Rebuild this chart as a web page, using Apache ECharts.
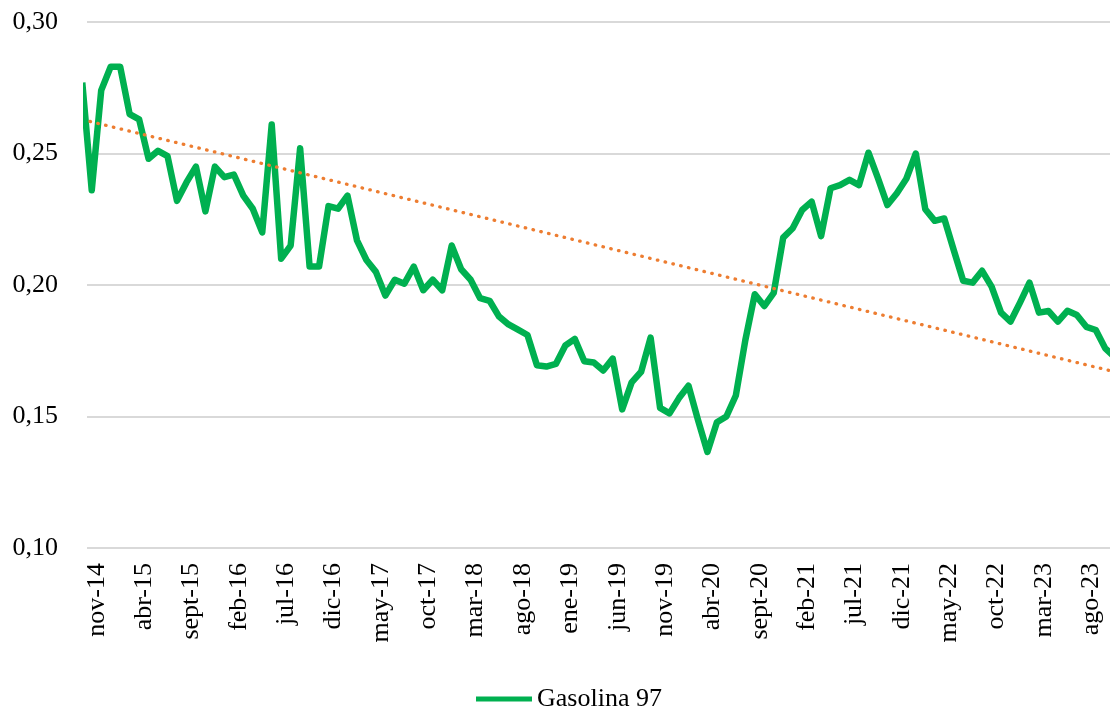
<!DOCTYPE html>
<html>
<head>
<meta charset="utf-8">
<script src="https://cdn.jsdelivr.net/npm/echarts@6/dist/echarts.min.js"></script>
<style>
  html, body { margin: 0; padding: 0; background: #fff; }
  #chart { width: 1110px; height: 708px; }
</style>
</head>
<body>
<div id="chart"></div>
<script>
  // meses tal como salen en el eje
  const monthNames = ['ene', 'feb', 'mar', 'abr', 'may', 'jun', 'jul', 'ago', 'sept', 'oct', 'nov', 'dic']
  const firstYear = 14
  const firstMonth = 10 // nov-14
  const seriesName = 'Gasolina 97'

  // nov-14 ... oct-23, uno por mes
  const prices = [
    0.236, 0.274, 0.283, 0.283, 0.265, 0.263, 0.248, 0.251, 0.249, 0.232,
    0.239, 0.245, 0.228, 0.245, 0.241, 0.242, 0.234, 0.229, 0.220, 0.261,
    0.210, 0.215, 0.252, 0.207, 0.207, 0.230, 0.229, 0.234, 0.217, 0.2095,
    0.205, 0.196, 0.202, 0.2005, 0.207, 0.198, 0.202, 0.198, 0.215, 0.206,
    0.202, 0.195, 0.194, 0.188, 0.185, 0.183, 0.181, 0.1695, 0.169, 0.170,
    0.177, 0.1795, 0.171, 0.1705, 0.1675, 0.172, 0.1527, 0.163, 0.167, 0.180,
    0.1533, 0.1512, 0.157, 0.1617, 0.1487, 0.1365, 0.1478, 0.150, 0.158, 0.179,
    0.1965, 0.192, 0.197, 0.218, 0.2216, 0.2285, 0.2317, 0.2186, 0.2368, 0.238,
    0.240, 0.238, 0.2503, 0.2406, 0.2304, 0.2349, 0.2404, 0.2500, 0.2288, 0.2244,
    0.2253, 0.2133, 0.2016, 0.2009, 0.2054, 0.1994, 0.1895, 0.1861, 0.1933, 0.2009,
    0.1895, 0.1901, 0.1861, 0.1902, 0.1886, 0.1841, 0.1829, 0.1759
  ]
  // los meses de los bordes (oct-14 y nov-23) quedan cortados por el área del gráfico
  const priceBefore = 0.277
  const priceAfter = 0.1726
  // tendencia lineal: valor en oct-14 y en nov-23
  const trendEnds = [0.2629, 0.1670]
  const yMin = 0.10
  const yMax = 0.30
  const yStep = 0.05

  const categories = prices.map((v, i) => {
    let m = firstMonth + i
    return monthNames[m % 12] + '-' + (firstYear + Math.floor(m / 12))
  })
  const lineData = [priceBefore].concat(prices, [priceAfter]).map((v, i) => [i, v])
  const trendData = [[0, trendEnds[0]], [prices.length + 1, trendEnds[1]]]

  const font = 'Liberation Serif'
  const chart = echarts.init(document.getElementById('chart'))
  chart.setOption({
    animation: false,
    backgroundColor: '#fff',
    grid: { left: 87, right: 0, top: 22, bottom: 160 },
    legend: {
      data: [{ name: seriesName, icon: 'rect' }],
      left: 471,
      top: 681,
      itemWidth: 56,
      itemHeight: 5,
      textStyle: { fontFamily: font, fontSize: 26, color: '#000' }
    },
    xAxis: [
      {
        type: 'category',
        data: categories,
        boundaryGap: true,
        axisLine: { show: false },
        axisTick: { show: false },
        axisLabel: {
          interval: 4,
          rotate: 90,
          margin: 15,
          verticalAlign: 'top',
          lineHeight: 10,
          fontFamily: font,
          fontSize: 26,
          color: '#000'
        }
      },
      {
        type: 'value',
        min: 0.5,
        max: prices.length + 0.5,
        show: false
      }
    ],
    yAxis: {
      type: 'value',
      min: yMin,
      max: yMax,
      interval: yStep,
      axisLine: { show: false },
      axisTick: { show: false },
      splitLine: { lineStyle: { color: '#d9d9d9', width: 2 } },
      axisLabel: {
        margin: 29,
        fontFamily: font,
        fontSize: 26,
        color: '#000',
        formatter: v => v.toFixed(2).replace('.', ',')
      }
    },
    series: [
      {
        name: seriesName,
        type: 'line',
        xAxisIndex: 1,
        data: lineData,
        symbol: 'none',
        color: '#00b050',
        lineStyle: { width: 6.5, join: 'round' },
        z: 3
      },
      {
        name: 'Tendencia',
        type: 'line',
        xAxisIndex: 1,
        data: trendData,
        symbol: 'none',
        color: '#ed7d31',
        lineStyle: { width: 3.3, type: [0.5, 7.5], cap: 'round' },
        z: 4
      }
    ]
  })
</script>
</body>
</html>
